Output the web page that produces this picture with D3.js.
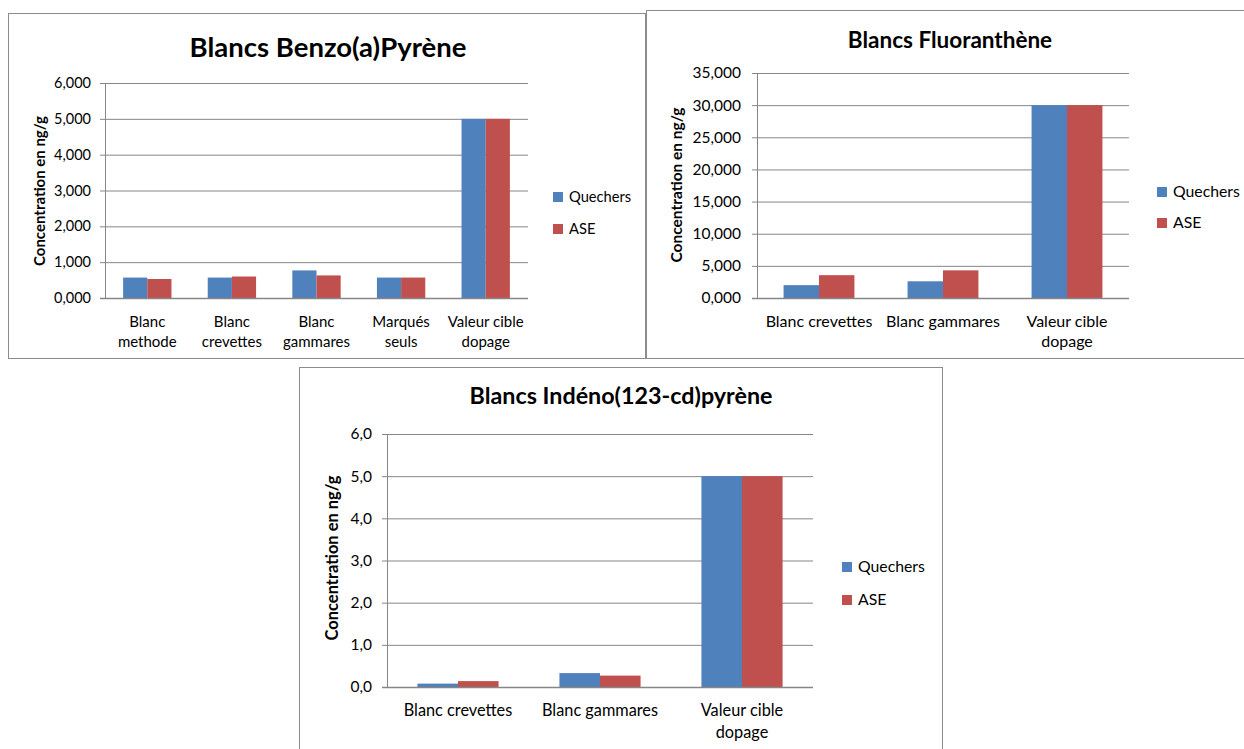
<!DOCTYPE html>
<html>
<head>
<meta charset="utf-8">
<script src="https://cdn.jsdelivr.net/npm/d3@7"></script>
<style>
  body { margin: 0; background: #fff; }
  svg text { font-family: Lato, "Open Sans", sans-serif; fill: #000; }
  .title { font-weight: 700; }
  .ylabel { font-weight: 700; }
</style>
</head>
<body>
<div id="viz"></div>
<script>
// series names
const seriesNames = ["Quechers", "ASE"]
const seriesColors = ["#4f81bd", "#c0504d"]

// Benzo(a)Pyrène
const benzoCategories = [["Blanc", "methode"], ["Blanc", "crevettes"], ["Blanc", "gammares"], ["Marqués", "seuls"], ["Valeur cible", "dopage"]]
const benzoQuechers = [0.57, 0.57, 0.77, 0.57, 5.0]
const benzoASE = [0.53, 0.60, 0.63, 0.57, 5.0]
const benzoTicks = [0, 1, 2, 3, 4, 5, 6]

// Fluoranthène
const fluoCategories = [["Blanc crevettes"], ["Blanc gammares"], ["Valeur cible", "dopage"]]
const fluoQuechers = [2.0, 2.6, 30]
const fluoASE = [3.55, 4.3, 30]
const fluoTicks = [0, 5, 10, 15, 20, 25, 30, 35]

// Indéno(123-cd)pyrène
const indCategories = [["Blanc crevettes"], ["Blanc gammares"], ["Valeur cible", "dopage"]]
const indQuechers = [0.08, 0.33, 5.0]
const indASE = [0.14, 0.27, 5.0]
const indTicks = [0, 1, 2, 3, 4, 5, 6]

const frLocale = d3.formatLocale({decimal: ",", thousands: " ", grouping: [3], currency: ["", " €"]})

const svg = d3.select("#viz").append("svg")
    .attr("width", 1244)
    .attr("height", 749)

function drawChart(title, categories, quechers, ase, ticks, fmt, L) {
    let g = svg.append("g")

    // frame
    g.append("rect")
        .attr("x", L.frame.x + 0.5).attr("y", L.frame.y + 0.5)
        .attr("width", L.frame.w).attr("height", L.frame.h)
        .attr("fill", "#fff").attr("stroke", "#8c8c8c").attr("stroke-width", 1)

    g.append("text").attr("class", "title")
        .attr("x", L.title.x).attr("y", L.title.y)
        .attr("text-anchor", "middle")
        .style("font-size", L.title.size + "px")
        .text(title)

    let x0 = d3.scaleBand()
        .domain(d3.range(categories.length))
        .range([L.plot.left, L.plot.right])
        .paddingInner(0).paddingOuter(0)
    let bw = x0.bandwidth() / 3.5
    let x1 = d3.scaleBand().domain([0, 1]).range([0, 2 * bw])

    let y = d3.scaleLinear().domain([0, d3.max(ticks)]).range([L.plot.bottom, L.plot.top])

    // gridlines + y axis
    let yAxis = g.append("g")
        .attr("transform", `translate(${L.plot.left},0)`)
        .call(d3.axisLeft(y).tickValues(ticks).tickFormat(fmt).tickSize(5).tickPadding(L.tickPad))
    yAxis.select(".domain").attr("stroke", "#868686")
    yAxis.selectAll(".tick line").attr("stroke", "#868686")
    yAxis.selectAll(".tick text")
        .style("font-size", L.tickSize + "px")
        .attr("fill", "#000")
    yAxis.selectAll(".tick").append("line")
        .attr("x1", 0).attr("x2", L.plot.right - L.plot.left)
        .attr("stroke", "#868686").attr("stroke-width", 1)

    // bars
    let data = categories.map((c, i) => [quechers[i], ase[i]])
    let groups = g.append("g").selectAll("g")
        .data(data).join("g")
        .attr("transform", (d, i) => `translate(${x0(i) + 0.75 * bw},0)`)
    groups.selectAll("rect")
        .data(d => d).join("rect")
        .attr("x", (d, j) => x1(j))
        .attr("width", x1.bandwidth())
        .attr("y", d => y(d))
        .attr("height", d => y(0) - y(d))
        .attr("fill", (d, j) => seriesColors[j])

    // x baseline
    g.append("line")
        .attr("x1", L.plot.left - 5).attr("x2", L.plot.right)
        .attr("y1", y(0) + 0.5).attr("y2", y(0) + 0.5)
        .attr("stroke", "#868686").attr("stroke-width", 1.5)

    // category labels
    categories.forEach((c, i) => {
        let t = g.append("text")
            .attr("x", x0(i) + x0.bandwidth() / 2)
            .attr("y", L.catY)
            .attr("text-anchor", "middle")
            .style("font-size", L.catSize + "px")
        c.forEach((line, k) => {
            t.append("tspan")
                .attr("x", x0(i) + x0.bandwidth() / 2)
                .attr("dy", k == 0 ? 0 : L.catLH)
                .text(line)
        })
    })

    // y label
    g.append("text").attr("class", "ylabel")
        .attr("transform", `translate(${L.ylabel.x},${L.ylabel.y}) rotate(-90)`)
        .attr("text-anchor", "middle")
        .style("font-size", L.ylabel.size + "px")
        .text("Concentration en ng/g")

    // legend
    seriesNames.forEach((s, j) => {
        let ly = L.legend.y + j * L.legend.gap
        g.append("rect")
            .attr("x", L.legend.x).attr("y", ly - 5)
            .attr("width", 10).attr("height", 10)
            .attr("fill", seriesColors[j])
        g.append("text")
            .attr("x", L.legend.x + 16).attr("y", ly + 5)
            .style("font-size", L.legend.size + "px")
            .text(s)
    })
}

drawChart("Blancs Benzo(a)Pyrène", benzoCategories, benzoQuechers, benzoASE, benzoTicks, frLocale.format(".3f"), {
    frame: {x: 8, y: 13, w: 637, h: 345},
    plot: {left: 105, right: 528, top: 83, bottom: 298},
    title: {x: 328, y: 57, size: 27.5},
    ylabel: {x: 45, y: 191, size: 15},
    legend: {x: 553, y: 197, gap: 32, size: 14.7},
    tickSize: 14.5, tickPad: 9, catY: 327, catLH: 20, catSize: 15
})

drawChart("Blancs Fluoranthène", fluoCategories, fluoQuechers, fluoASE, fluoTicks, frLocale.format(".3f"), {
    frame: {x: 646, y: 10, w: 620, h: 348},
    plot: {left: 757, right: 1129, top: 73, bottom: 298},
    title: {x: 950, y: 48, size: 22.5},
    ylabel: {x: 682, y: 185, size: 15.5},
    legend: {x: 1157, y: 192, gap: 31, size: 15.8},
    tickSize: 15.5, tickPad: 11, catY: 327, catLH: 20, catSize: 16
})

drawChart("Blancs Indéno(123-cd)pyrène", indCategories, indQuechers, indASE, indTicks, frLocale.format(".1f"), {
    frame: {x: 299, y: 367, w: 643, h: 400},
    plot: {left: 387, right: 813, top: 434, bottom: 687},
    title: {x: 621, y: 404, size: 23.3},
    ylabel: {x: 338, y: 558, size: 16.5},
    legend: {x: 842, y: 567, gap: 33, size: 15.8},
    tickSize: 15.5, tickPad: 10, catY: 716, catLH: 22, catSize: 16.3
})
</script>
</body>
</html>
